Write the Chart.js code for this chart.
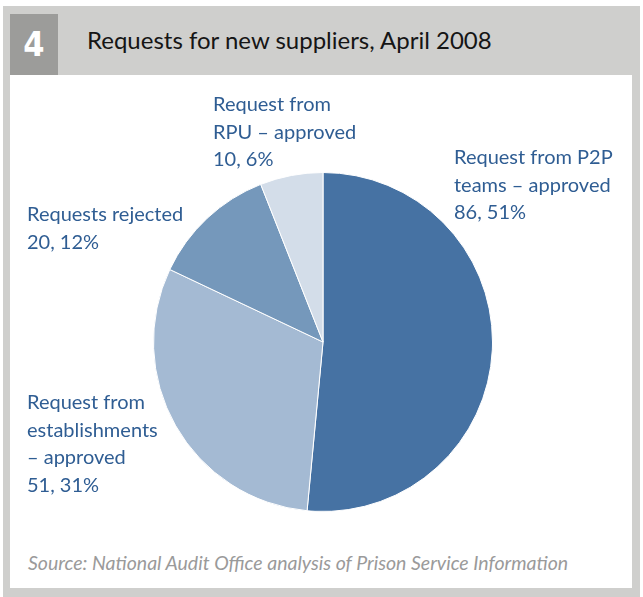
<!DOCTYPE html>
<html>
<head>
<meta charset="utf-8">
<script src="https://cdn.jsdelivr.net/npm/chart.js@4"></script>
<style>
  html, body { margin: 0; padding: 0; background: #fff; }
  #wrap { position: relative; width: 643px; height: 597px; overflow: hidden; }
  #frame { position: absolute; left: 3px; top: 6px; width: 637px; height: 591px; background: #cfcfcd; }
  #num { position: absolute; left: 10px; top: 14px; width: 48px; height: 61px; background: #9c9c9a;
         color: #fff; font: bold 34px "DejaVu Sans Condensed", "DejaVu Sans", sans-serif; text-align: center; line-height: 61px; }
  #title { position: absolute; left: 87px; top: 25px; font: 24px Lato, sans-serif; color: #151515; }
  #panel { position: absolute; left: 10px; top: 75px; width: 622px; height: 513px; background: #fff; }
  #source { position: absolute; left: 28px; top: 551px; font: italic 19.5px Lato, sans-serif; color: #9a9a9a; }
  #chart { position: absolute; left: 0; top: 0; }
</style>
</head>
<body>
<div id="wrap">
  <div id="frame"></div>
  <div id="num">4</div>
  <div id="title">Requests for new suppliers, April 2008</div>
  <div id="panel"></div>
  <div id="source">Source: National Audit Office analysis of Prison Service Information</div>
  <canvas id="chart" width="643" height="597"></canvas>
</div>
<script>
const categories = ['Request from P2P teams – approved', 'Request from establishments – approved', 'Requests rejected', 'Request from RPU – approved'];
const counts = [86, 51, 20, 10];
const percents = [51, 31, 12, 6];
const sliceColors = ['#4672a3', '#a4bad3', '#7598bb', '#d3dde9'];

// label text lines (name part) and where they sit
const labelLines = [
  ['Request from P2P', 'teams – approved'],
  ['Request from', 'establishments', '– approved'],
  ['Requests rejected'],
  ['Request from', 'RPU – approved']
];
const labelPos = [[454, 158], [27, 403], [27, 215], [213, 105]];

const labelsPlugin = {
  id: 'sliceLabels',
  afterDraw(chart) {
    const c = chart.ctx;
    c.save();
    c.font = '20px Lato, sans-serif';
    c.fillStyle = '#2f5d93';
    c.textBaseline = 'middle';
    c.textAlign = 'left';
    labelLines.forEach((lines, i) => {
      const all = lines.concat([counts[i] + ', ' + percents[i] + '%']);
      all.forEach((t, j) => c.fillText(t, labelPos[i][0], labelPos[i][1] + j * 27.5));
    });
    c.restore();
  }
};

new Chart(document.getElementById('chart'), {
  type: 'pie',
  data: {
    labels: categories,
    datasets: [{
      data: counts,
      backgroundColor: sliceColors,
      borderColor: '#ffffff',
      borderWidth: 1
    }]
  },
  options: {
    responsive: false,
    animation: false,
    layout: { padding: { left: 153, right: 150, top: 172, bottom: 85 } },
    plugins: {
      legend: { display: false },
      tooltip: { enabled: false },
      title: { display: false }
    }
  },
  plugins: [labelsPlugin]
});
</script>
</body>
</html>
